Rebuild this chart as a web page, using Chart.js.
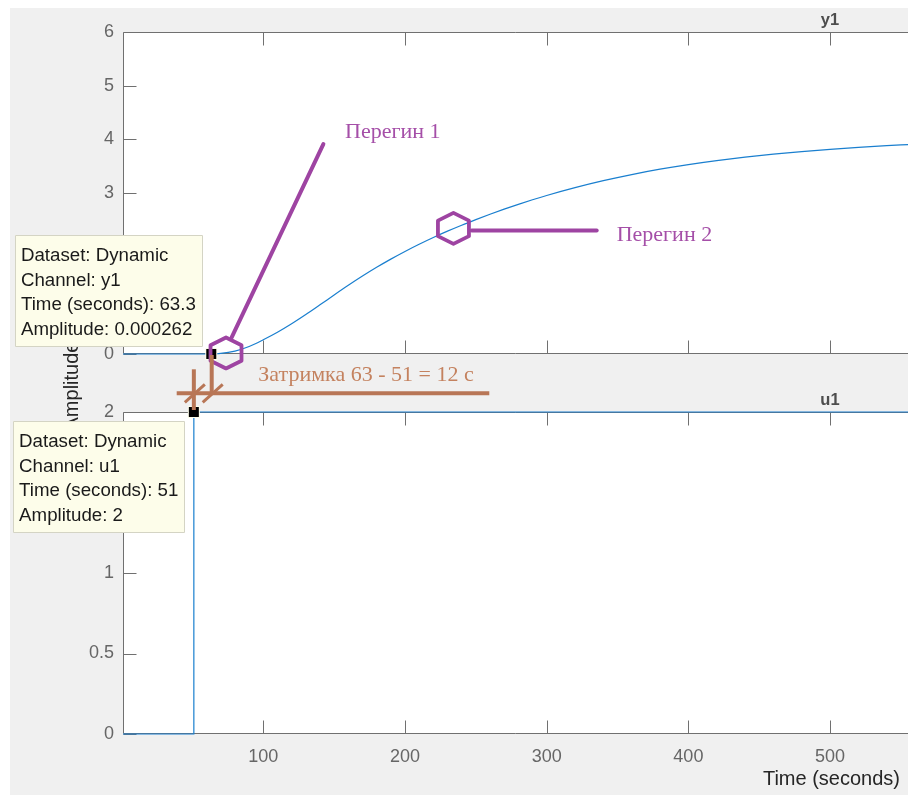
<!DOCTYPE html>
<html>
<head>
<meta charset="utf-8">
<script src="https://cdn.jsdelivr.net/npm/chart.js@4.4.0/dist/chart.umd.min.js"></script>
<style>
  body { margin: 0; background: #fff; }
  #fig { position: absolute; left: 10px; top: 8px; width: 898px; height: 787px; background: #f0f0f0; }
  canvas { position: absolute; left: 0; top: 0; }
</style>
</head>
<body>
<div id="fig"></div>
<canvas id="c1" width="908" height="796"></canvas>
<canvas id="c2" width="908" height="796"></canvas>
<script>
//output y1
var y1_time = [1, 63, 70, 80, 90, 100, 110, 120, 130, 140, 150, 160, 170, 180, 190, 200,
               210, 220, 230, 240, 250, 260, 270, 280, 290, 300, 320, 340, 360, 380, 400,
               420, 440, 460, 480, 500, 520, 540, 555];
var y1_amp = [0, 0, 0.010, 0.055, 0.140, 0.265, 0.405, 0.563, 0.735, 0.916, 1.100, 1.280, 1.452, 1.615, 1.768, 1.911,
              2.045, 2.171, 2.289, 2.400, 2.504, 2.604, 2.699, 2.789, 2.874, 2.954, 3.100, 3.230, 3.344, 3.444, 3.530,
              3.604, 3.668, 3.724, 3.772, 3.814, 3.850, 3.882, 3.903];

//input u1 - step at 51 s
var u1_time = [1, 51, 51, 555];
var u1_amp = [0, 0, 2, 2];

//tick values
var time_ticks = [100, 200, 300, 400, 500];
var y1_ticks = [0, 1, 2, 3, 4, 5, 6];
var u1_ticks = [0, 0.5, 1, 1.5, 2];

//data tips (y1 first, then u1)
var tip_channel = ['y1', 'u1'];
var tip_time = [63.3, 51];
var tip_amp = [0.000262, 2];

var LINE_BLUE = '#1a7fcf';
var AXIS_GRAY = '#707070';
var PURPLE = '#9e44a2';
var BROWN = '#b87656';

function points(xs, ys) {
    return xs.map(function (x, i) { return { x: x, y: ys[i] }; });
}

function set_ticks(list) {
    return function (scale) {
        scale.ticks = list.map(function (v) { return { value: v }; });
    };
}

//white plot area + frame + inward tick marks
var frame_plugin = {
    id: 'frame',
    beforeDraw: function (chart) {
        var a = chart.chartArea, ctx = chart.ctx;
        ctx.save();
        ctx.fillStyle = '#ffffff';
        ctx.fillRect(a.left, a.top, a.right - a.left, a.bottom - a.top);
        ctx.restore();
    },
    beforeDatasetsDraw: function (chart) {
        var a = chart.chartArea, ctx = chart.ctx;
        var sx = chart.scales.x, sy = chart.scales.y;
        var L = a.left + 0.5, T = a.top + 0.5, B = Math.round(a.bottom) - 0.5;
        ctx.save();
        ctx.strokeStyle = AXIS_GRAY;
        ctx.lineWidth = 1;
        ctx.beginPath();
        ctx.moveTo(a.right, T); ctx.lineTo(L, T); ctx.lineTo(L, B); ctx.lineTo(a.right, B);
        time_ticks.forEach(function (t) {
            var px = Math.round(sx.getPixelForValue(t)) + 0.5;
            ctx.moveTo(px, T); ctx.lineTo(px, T + 13);
            ctx.moveTo(px, B); ctx.lineTo(px, B - 13);
        });
        sy.ticks.forEach(function (tk) {
            var py = Math.round(sy.getPixelForValue(tk.value)) + 0.5;
            ctx.moveTo(L, py); ctx.lineTo(L + 13, py);
        });
        ctx.stroke();
        ctx.restore();
    }
};

//channel name above each panel
var panel_plugin = {
    id: 'panel',
    afterDraw: function (chart, args, opts) {
        var a = chart.chartArea, ctx = chart.ctx;
        ctx.save();
        ctx.font = 'bold 16.5px "Liberation Sans"';
        ctx.fillStyle = '#4d4d4d';
        ctx.textAlign = 'center';
        ctx.textBaseline = 'middle';
        ctx.fillText(opts.text, a.right - 78, a.top - 12);
        ctx.restore();
    }
};

function hexagon(ctx, cx, cy) {
    var w = 15.5, h = 15.5;
    ctx.beginPath();
    ctx.moveTo(cx, cy - h);
    ctx.lineTo(cx + w, cy - h / 2);
    ctx.lineTo(cx + w, cy + h / 2);
    ctx.lineTo(cx, cy + h);
    ctx.lineTo(cx - w, cy + h / 2);
    ctx.lineTo(cx - w, cy - h / 2);
    ctx.closePath();
    ctx.stroke();
}

function seg(ctx, x1, y1, x2, y2) {
    ctx.beginPath();
    ctx.moveTo(x1, y1);
    ctx.lineTo(x2, y2);
    ctx.stroke();
}

//data tip box, anchored at the marked point
function tip_box(ctx, px, py, lines, below) {
    ctx.save();
    ctx.font = '18.7px "Liberation Sans"';
    var w = Math.max.apply(null, lines.map(function (s) { return ctx.measureText(s).width; })) + 12;
    var h = 111;
    var right = px - 9.5;
    var top = below ? py + 9 : py - 8 - h;
    ctx.fillStyle = '#fdfdea';
    ctx.strokeStyle = '#d4d4c4';
    ctx.lineWidth = 1;
    ctx.fillRect(right - w, top, w, h);
    ctx.strokeRect(Math.round(right - w) + 0.5, Math.round(top) + 0.5, Math.round(w), h);
    ctx.fillStyle = '#1a1a1a';
    ctx.textBaseline = 'alphabetic';
    lines.forEach(function (s, i) {
        ctx.fillText(s, right - w + 6, top + 26 + i * 24.6);
    });
    ctx.restore();
}

//hand drawn notes, data tips and the shared y label
var notes_plugin = {
    id: 'notes',
    afterDraw: function (chart) {
        var ctx = chart.ctx;
        var sx = chart.scales.x, s1 = top_chart.scales.y, s2 = chart.scales.y;
        var X = function (t) { return sx.getPixelForValue(t); };
        var Y = function (v) { return s1.getPixelForValue(v); };
        ctx.save();

        //y label
        ctx.save();
        ctx.translate(72, 386);
        ctx.rotate(-Math.PI / 2);
        ctx.font = '20px "Liberation Sans"';
        ctx.fillStyle = '#262626';
        ctx.textAlign = 'center';
        ctx.textBaseline = 'middle';
        ctx.fillText('Amplitude', 0, 0);
        ctx.restore();

        //data tip markers
        var m1x = X(tip_time[0]), m1y = Y(tip_amp[0]);
        var m2x = X(tip_time[1]), m2y = s2.getPixelForValue(tip_amp[1]);
        [[m1x, m1y], [m2x, m2y]].forEach(function (p) {
            ctx.fillStyle = '#fdfdea';
            ctx.fillRect(p[0] - 6, p[1] - 6, 12, 12);
            ctx.fillStyle = '#000000';
            ctx.fillRect(p[0] - 5, p[1] - 5, 10, 10);
        });

        //inflection notes
        ctx.strokeStyle = PURPLE;
        ctx.lineCap = 'round';
        ctx.lineJoin = 'round';
        ctx.lineWidth = 3.8;
        hexagon(ctx, X(73.7), Y(0.02));
        hexagon(ctx, X(234.2), Y(2.34));
        ctx.lineWidth = 4;
        seg(ctx, X(77.7), Y(0.31), X(142.4), Y(3.91));
        seg(ctx, X(247.1), Y(2.30), X(335.3), Y(2.30));
        ctx.font = '22px "Liberation Serif"';
        ctx.fillStyle = '#a54fa8';
        ctx.textBaseline = 'middle';
        ctx.fillText('Перегин 1', X(157.7), Y(4.13));
        ctx.fillText('Перегин 2', X(349.4), Y(2.22));

        //delay note
        ctx.strokeStyle = BROWN;
        ctx.lineWidth = 4;
        ctx.lineCap = 'butt';
        var hy = Y(-0.732);
        seg(ctx, X(38.9), hy, X(259.5), hy);
        seg(ctx, X(51), Y(-0.285), X(51), Y(-1.043));
        seg(ctx, X(63.6), Y(-0.019), X(63.6), hy);
        ctx.lineWidth = 3;
        [51, 63.6].forEach(function (t) {
            var cx = X(t) + 1;
            seg(ctx, cx - 10, hy + 9, cx + 10, hy - 9);
        });
        ctx.fillStyle = '#c4825f';
        ctx.fillText('Затримка 63 - 51 = 12 с', X(96.5), Y(-0.391));

        //data tip boxes
        tip_box(ctx, m1x, m1y, ['Dataset: Dynamic', 'Channel: ' + tip_channel[0],
            'Time (seconds): ' + tip_time[0], 'Amplitude: ' + tip_amp[0]], false);
        tip_box(ctx, m2x, m2y, ['Dataset: Dynamic', 'Channel: ' + tip_channel[1],
            'Time (seconds): ' + tip_time[1], 'Amplitude: ' + tip_amp[1]], true);

        //x label
        ctx.font = '20px "Liberation Sans"';
        ctx.fillStyle = '#262626';
        ctx.textAlign = 'right';
        ctx.textBaseline = 'middle';
        ctx.fillText('Time (seconds)', chart.chartArea.right - 8, 779);
        ctx.restore();
    }
};

var tick_font = { family: 'Liberation Sans', size: 18 };
var no_grid = { display: false, drawTicks: false };

//top panel: y1
var top_chart = new Chart(document.getElementById('c1'), {
    type: 'line',
    data: {
        datasets: [{
            data: points(y1_time, y1_amp),
            borderColor: LINE_BLUE,
            borderWidth: 1.2,
            pointRadius: 0,
            cubicInterpolationMode: 'monotone',
            clip: 3
        }]
    },
    options: {
        responsive: false,
        animation: false,
        events: [],
        layout: { padding: { top: 32, bottom: 442, left: 0, right: 0 } },
        plugins: { legend: { display: false }, tooltip: { enabled: false }, panel: { text: 'y1' } },
        scales: {
            x: { type: 'linear', min: 1, max: 555, display: false },
            y: {
                type: 'linear', min: 0, max: 6,
                afterBuildTicks: set_ticks(y1_ticks),
                afterFit: function (s) { s.width = 123; },
                grid: no_grid,
                border: { display: false },
                ticks: { color: '#666666', font: tick_font, padding: 9, callback: function (v) { return String(v); } }
            }
        }
    },
    plugins: [frame_plugin, panel_plugin]
});

//bottom panel: u1
var bottom_chart = new Chart(document.getElementById('c2'), {
    type: 'line',
    data: {
        datasets: [{
            data: points(u1_time, u1_amp),
            borderColor: LINE_BLUE,
            borderWidth: 1.2,
            pointRadius: 0,
            tension: 0,
            clip: 3
        }]
    },
    options: {
        responsive: false,
        animation: false,
        events: [],
        layout: { padding: { top: 412, bottom: 0, left: 0, right: 0 } },
        plugins: { legend: { display: false }, tooltip: { enabled: false }, panel: { text: 'u1' } },
        scales: {
            x: {
                type: 'linear', min: 1, max: 555,
                afterBuildTicks: set_ticks(time_ticks),
                afterFit: function (s) { s.height = 62; },
                grid: no_grid,
                border: { display: false },
                ticks: { color: '#666666', font: tick_font, padding: 12, maxRotation: 0, autoSkip: false,
                         callback: function (v) { return String(v); } }
            },
            y: {
                type: 'linear', min: 0, max: 2,
                afterBuildTicks: set_ticks(u1_ticks),
                afterFit: function (s) { s.width = 123; },
                grid: no_grid,
                border: { display: false },
                ticks: { color: '#666666', font: tick_font, padding: 9, callback: function (v) { return String(v); } }
            }
        }
    },
    plugins: [frame_plugin, panel_plugin, notes_plugin]
});
</script>
</body>
</html>
